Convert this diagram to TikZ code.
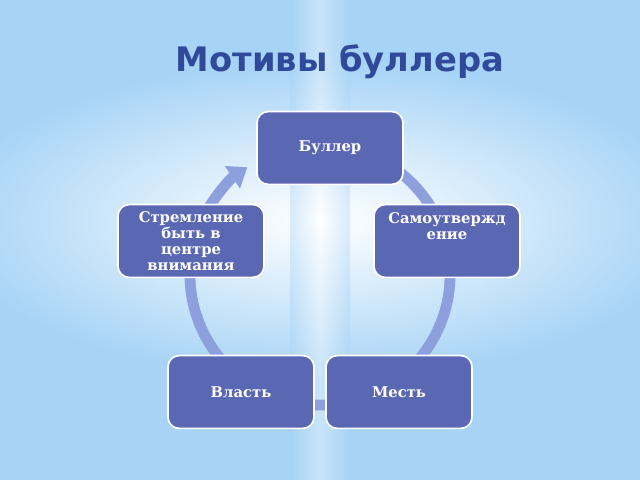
\documentclass[tikz,border=0pt]{standalone}
\usepackage{fontspec}
\setmainfont{DejaVu Serif}
\newfontfamily\titlefont{DejaVu Sans}
\usetikzlibrary{arrows.meta}
\definecolor{skyblue}{HTML}{A6D3F6}
\definecolor{boxblue}{HTML}{5A68B4}
\definecolor{ringblue}{HTML}{8E9FDD}
\definecolor{titleblue}{HTML}{2F4A9B}

\begin{document}
\begin{tikzpicture}[
    x=0.025cm, y=0.025cm,
      motive/.style={draw=white, line width=1.2pt, fill=boxblue, rectangle, rounded corners=8pt,
        minimum width=3.65cm, minimum height=1.82cm, text=white, align=center,
        font=\bfseries\fontsize{10.5}{11.5}\selectfont},
      ring/.style={line width=0.27cm, color=ringblue}
  ]
      \useasboundingbox (0,0) rectangle (640,480);
      % Background
      \begin{scope}
        \clip (0,0) rectangle (640,480);
        \fill[skyblue] (0,0) rectangle (640,480);
        \shade[inner color=white, outer color=skyblue] (320,260) ellipse (380 and 160);
        \shade[left color=skyblue, right color=skyblue, middle color=white, opacity=0.4] (290,0) rectangle (350,480);
      \end{scope}

      % Title
      \node (title) at (340,418) [text=titleblue, font=\titlefont\bfseries\fontsize{24}{28}\selectfont] {Мотивы буллера};

      % Ring
      \draw[ring, -{Triangle[width=0.65cm, length=0.45cm]}] (320,205) ++(60:130) arc (60:-236:130);

      % Motives
      \node (buller) at (330,332) [motive] {Буллер};
      \node (selfassert) at (447,239) [motive] {Самоутвержд\\ение\\[10pt]};
      \node (revenge) at (399,88) [motive] {Месть};
      \node (power) at (241,88) [motive] {Власть};
      \node (attention) at (191,239) [motive, inner ysep=1pt] {Стремление\\быть в\\центре\\внимания};
\end{tikzpicture}
\end{document}
